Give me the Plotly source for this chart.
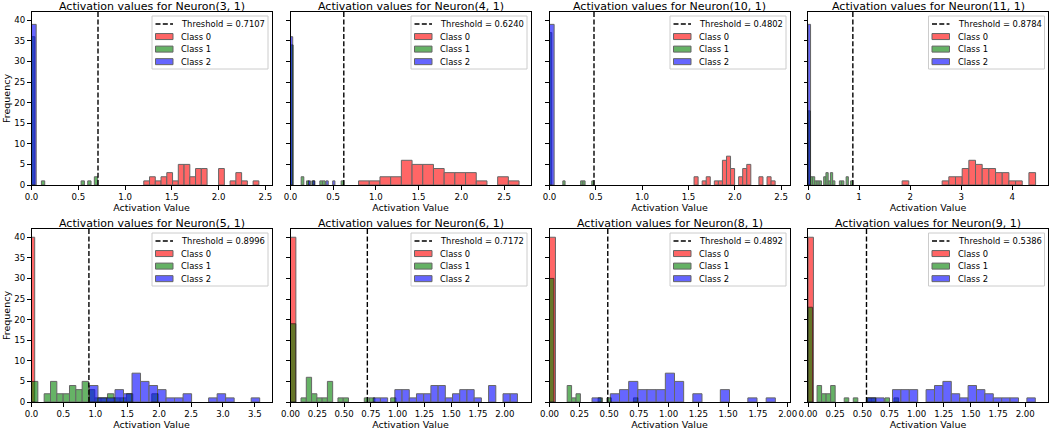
import plotly.graph_objects as go

# ---------------- data ----------------
neurons = ["Neuron(3, 1)", "Neuron(4, 1)", "Neuron(10, 1)", "Neuron(11, 1)",
           "Neuron(5, 1)", "Neuron(6, 1)", "Neuron(8, 1)", "Neuron(9, 1)"]
thresholds = [0.7107, 0.6240, 0.4802, 0.8784, 0.8996, 0.7172, 0.4892, 0.5386]
class_names = ["Class 0", "Class 1", "Class 2"]

# histogram range (low, high) of each class per neuron; counts are equal-width bins
class0_ranges = [(1.20, 2.43), (0.797, 2.676), (1.56, 2.435), (1.843, 4.457),
                 (0.0, 0.05), (0.0, 0.05), (0.0, 0.05), (0.0, 0.05)]
class0_counts = [
    [1, 2, 1, 2, 3, 1, 5, 5, 2, 4, 4, 0, 0, 4, 0, 1, 3, 1, 0, 1],
    [1, 1, 2, 2, 6, 5, 5, 4, 3, 3, 3, 1, 0, 2, 1],
    [2, 0, 1, 2, 0, 1, 1, 6, 7, 4, 0, 2, 4, 5, 0, 0, 2, 0, 2, 1],
    [1, 0, 0, 0, 0, 0, 1, 2, 2, 4, 6, 5, 4, 4, 3, 3, 1, 1, 0, 3],
    [40], [40], [40], [40],
]

class1_ranges = [(0.0, 0.707), (0.0, 0.624), (0.0, 0.48), (0.0, 0.878),
                 (0.0, 1.984), (0.0, 0.984), (0.0, 0.742), (0.0, 0.834)]
class1_counts = [
    [36, 0, 0, 1, 0, 0, 0, 0, 0, 0, 0, 0, 0, 0, 0, 1, 0, 1, 0, 2],
    [34, 0, 0, 0, 2, 0, 1, 0, 1, 0, 0, 1, 1, 0, 0, 0, 0, 0, 0, 1],
    [37, 0, 0, 0, 0, 0, 1, 0, 0, 0, 0, 0, 0, 0, 1, 1, 0, 0, 0, 1],
    [18, 2, 2, 1, 1, 1, 0, 2, 3, 1, 3, 1, 0, 0, 1, 1, 0, 2, 0, 1],
    [5, 0, 2, 5, 2, 2, 4, 3, 5, 3, 1, 1, 2, 1, 1, 2, 0, 0, 0, 2],
    [19, 0, 1, 6, 2, 1, 1, 5, 0, 1, 1, 0, 0, 0, 1, 1, 0, 0, 0, 1],
    [30, 0, 0, 0, 4, 1, 2, 0, 0, 0, 0, 1, 0, 1, 0, 0, 0, 0, 0, 1],
    [23, 0, 4, 2, 2, 4, 0, 0, 1, 0, 1, 0, 0, 1, 1, 0, 0, 1, 0, 1],
]

class2_ranges = [(0.0, 0.05), (0.0, 0.52), (0.0, 0.05), (0.0, 0.05),
                 (0.908, 3.575), (0.772, 2.118), (0.357, 1.896), (0.546, 2.093)]
class2_counts = [
    [39],
    [36, 0, 0, 0, 0, 0, 0, 0, 1, 0, 1, 0, 0, 0, 0, 0, 1, 0, 0, 1],
    [39],
    [39],
    [4, 1, 1, 3, 2, 7, 5, 4, 3, 1, 1, 2, 0, 0, 1, 2, 1, 0, 0, 1],
    [1, 1, 0, 3, 3, 1, 2, 2, 4, 4, 1, 2, 3, 3, 1, 0, 4, 0, 2, 2],
    [1, 0, 2, 3, 5, 3, 3, 3, 7, 5, 0, 2, 0, 0, 3, 0, 0, 1, 0, 1],
    [1, 1, 0, 3, 3, 3, 0, 3, 4, 5, 2, 1, 4, 3, 2, 1, 1, 1, 0, 1],
]

x_axis_max = [2.565, 2.81, 2.59, 4.70, 3.76, 2.24, 2.015, 2.21]
x_tick_step = [0.5, 0.5, 0.5, 1, 0.5, 0.25, 0.25, 0.25]
x_tick_format = [".1f", ".1f", ".1f", "d", ".1f", ".2f", ".2f", ".2f"]
y_ticks = [0, 5, 10, 15, 20, 25, 30, 35, 40]
y_axis_max = 42

# ---------------- styling / layout ----------------
W, H = 1061, 435
FONT = "DejaVu Sans"
colors = ["rgb(255,0,0)", "rgb(0,128,0)", "rgb(0,0,255)"]
col_px = [(31.5, 271.5), (290.5, 530.5), (549.5, 789.5), (808.0, 1048.0)]
row_px = [(12.0, 185.0), (229.0, 402.0)]
DASH = "5px,2.3px"


def px(xp):
    return xp / W


def py(yp):
    return 1 - yp / H


fig = go.Figure()
layout = dict(
    width=W, height=H,
    margin=dict(l=0, r=0, t=0, b=0),
    paper_bgcolor="white", plot_bgcolor="white",
    barmode="overlay",
    font=dict(family=FONT, color="black", size=9),
    annotations=[], shapes=[],
    showlegend=False,
)

all_ranges = [class0_ranges, class1_ranges, class2_ranges]
all_counts = [class0_counts, class1_counts, class2_counts]

for i in range(8):
    r, c = divmod(i, 4)
    sfx = "" if i == 0 else str(i + 1)
    xname, yname = "x" + sfx, "y" + sfx
    x0, x1 = col_px[c]
    y0, y1 = row_px[r]

    # threshold line
    t = thresholds[i]
    label_t = f"Threshold = {t:.4f}"
    fig.add_trace(go.Scatter(
        x=[t, t], y=[0, y_axis_max], mode="lines",
        line=dict(color="black", width=1.4, dash=DASH),
        name=label_t, xaxis=xname, yaxis=yname, hoverinfo="skip",
    ))
    # histograms
    for k in range(3):
        lo, hi = all_ranges[k][i]
        counts = all_counts[k][i]
        w = (hi - lo) / len(counts)
        xs = [lo + (j + 0.5) * w for j, v in enumerate(counts) if v > 0]
        ys = [v for v in counts if v > 0]
        fig.add_trace(go.Bar(
            x=xs, y=ys, width=w, name=class_names[k],
            marker=dict(color=colors[k], line=dict(color="black", width=1)),
            opacity=0.6, xaxis=xname, yaxis=yname,
        ))

    axis_common = dict(
        showline=True, mirror=True, linecolor="black", linewidth=1,
        ticks="outside", ticklen=3.5, tickwidth=0.8, tickcolor="black",
        showgrid=False, zeroline=False, automargin=False,
        tickfont=dict(family=FONT, size=8.6, color="black"),
    )
    layout["xaxis" + sfx] = dict(
        axis_common,
        domain=[px(x0), px(x1)], anchor=yname,
        range=[0, x_axis_max[i]], tick0=0, dtick=x_tick_step[i],
        tickformat=x_tick_format[i],
        title=dict(text="Activation Value", font=dict(family=FONT, size=9.5),
                   standoff=2),
    )
    ydict = dict(
        axis_common,
        domain=[py(y1), py(y0)], anchor=xname,
        range=[0, y_axis_max], tickvals=y_ticks,
        showticklabels=(c == 0),
    )
    if c == 0:
        ydict["title"] = dict(text="Frequency", font=dict(family=FONT, size=9.5),
                              standoff=2)
    layout["yaxis" + sfx] = ydict

    # subplot title
    layout["annotations"].append(dict(
        text=f"Activation values for {neurons[i]}",
        x=px((x0 + x1) / 2), y=py(y0), xref="paper", yref="paper",
        xanchor="center", yanchor="bottom", showarrow=False, yshift=-3,
        font=dict(family=FONT, size=11, color="black"),
    ))

    # in-axes legend box (matplotlib style)
    bl, br = x1 - 3.5 - 116, x1 - 3.5
    bt, bb = y0 + 4, y0 + 57
    layout["shapes"].append(dict(
        type="rect", xref="paper", yref="paper",
        x0=px(bl), x1=px(br), y0=py(bb), y1=py(bt),
        fillcolor="rgba(255,255,255,0.8)", line=dict(color="#cccccc", width=1),
        layer="above",
    ))
    entries = [label_t] + class_names
    for k, label in enumerate(entries):
        cy = y0 + 12 + 12.55 * k
        hx0, hx1 = bl + 3.5, bl + 21
        if k == 0:
            layout["shapes"].append(dict(
                type="line", xref="paper", yref="paper",
                x0=px(hx0), x1=px(hx1), y0=py(cy), y1=py(cy),
                line=dict(color="black", width=1.4, dash=DASH), layer="above",
            ))
        else:
            layout["shapes"].append(dict(
                type="rect", xref="paper", yref="paper",
                x0=px(hx0), x1=px(hx1), y0=py(cy + 3), y1=py(cy - 3),
                fillcolor=colors[k - 1], line=dict(color="black", width=1),
                opacity=0.6, layer="above",
            ))
        layout["annotations"].append(dict(
            text=label, x=px(bl + 27), y=py(cy), xref="paper", yref="paper",
            xanchor="left", yanchor="middle", showarrow=False,
            font=dict(family=FONT, size=8.4, color="black"),
        ))

fig.update_layout(**layout)
fig.write_html("out.html", config={"displayModeBar": False},
               post_script="document.body.style.margin='0';")
